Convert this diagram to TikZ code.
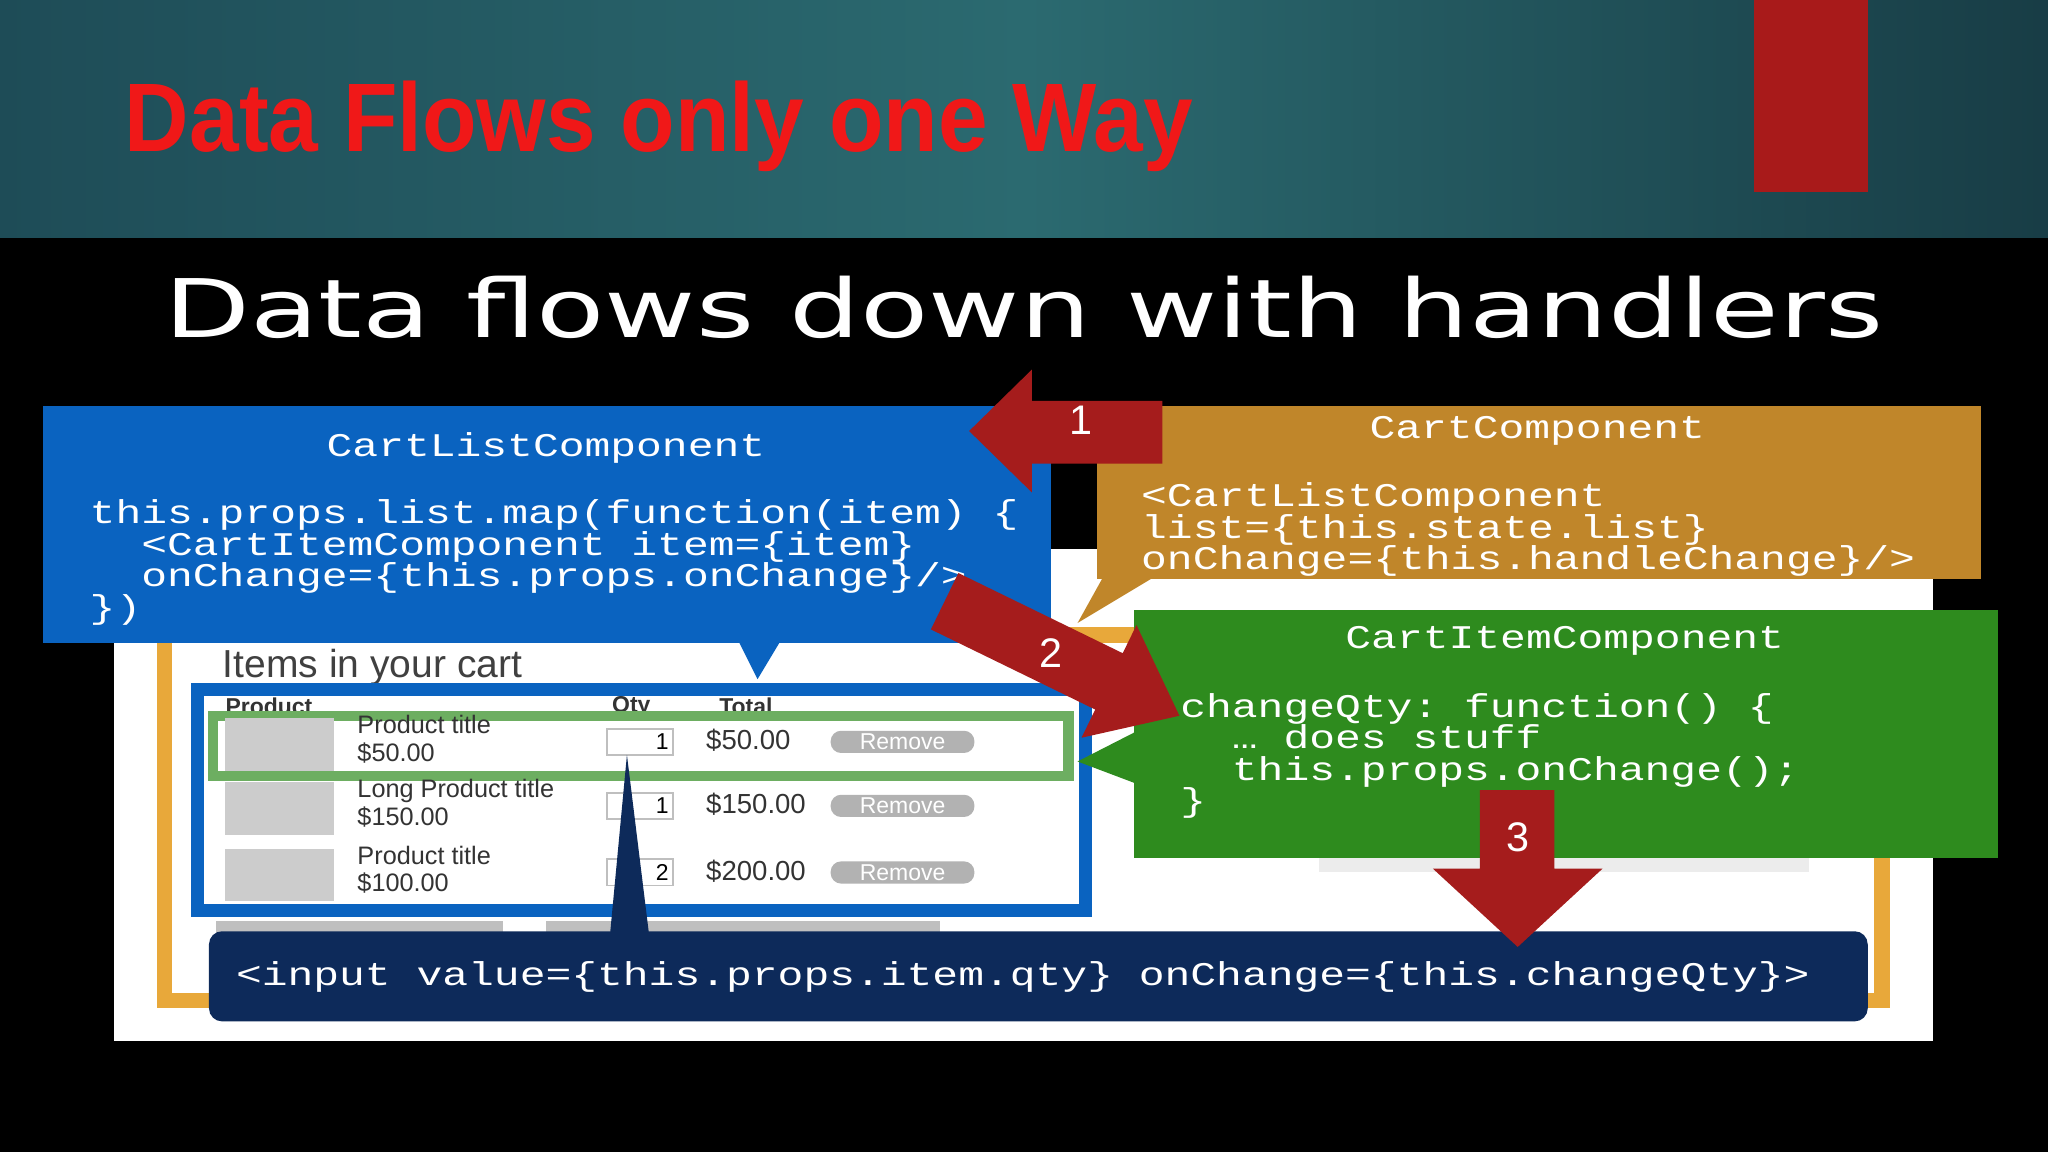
\documentclass[tikz,border=0pt]{standalone}
\usepackage{fontspec}
\setmainfont{Liberation Sans}
\setmonofont{Liberation Mono}
\newfontfamily\titfont{DejaVu Sans}
\usepackage{graphicx}
\definecolor{teal1}{HTML}{1E4C57}
\definecolor{teal2}{HTML}{2B6A70}
\definecolor{slidered}{HTML}{A81A1A}
\definecolor{titred}{HTML}{F01818}
\definecolor{cblue}{HTML}{0A63C0}
\definecolor{corange}{HTML}{C0862A}
\definecolor{cgreen}{HTML}{2E8B1E}
\definecolor{navy}{HTML}{0D2A5A}
\definecolor{arrred}{HTML}{A51C1C}
\definecolor{borange}{HTML}{E8A83A}
\newcommand{\cl}[1]{\scalebox{1.3}[1]{#1}}
\tikzset{
 code/.style={text=white,font=\fontsize{7.2pt}{6.85pt}\selectfont\ttfamily,inner sep=0pt,align=left},
 arr/.style={fill=arrred,draw=none},
 tab/.style={font=\fontsize{5pt}{5pt}\selectfont\bfseries,text=black!80,inner sep=0pt,align=left},
 btn/.style={fill=gray!60,rounded corners=0.08cm,text=white,font=\fontsize{5pt}{5pt}\selectfont,minimum width=1.1cm,minimum height=0.17cm,inner sep=0pt},
 thumb/.style={fill=gray!40,draw=none},
 qbox/.style={draw=gray!50,fill=white,minimum width=0.5cm,minimum height=0.2cm,inner sep=1pt,font=\fontsize{5pt}{5pt}\selectfont,align=right,text width=0.44cm}
}
\begin{document}
\begin{tikzpicture}[x=0.01cm,y=-0.01cm]
\useasboundingbox (0,0) rectangle (1568,882);
% backgrounds
\fill[black] (0,0) rectangle (1568,882);
\shade[left color=teal1,right color=teal1!80!black,middle color=teal2] (0,0) rectangle (1568,182);
\fill[slidered] (1343,0) rectangle (1430,147);
\node[anchor=south west,inner sep=0pt,text=titred] (title) at (95,132)
 {\resizebox{8.17cm}{0.54cm}{\bfseries Data Flows only one Way}};
\node[anchor=south west,inner sep=0pt,text=white] (sub) at (125,260)
 {\resizebox{13.15cm}{0.47cm}{\titfont Data flows down with handlers}};
% screenshot panel
\fill[white] (87,420) rectangle (1480,797);
\draw[borange,line width=0.12cm] (126,486) rectangle (1441,766);
\node[anchor=west,inner sep=0pt,font=\fontsize{8.5pt}{8.5pt}\selectfont,text=black!75] (items) at (170,511) {Items in your cart};
\fill[gray!15] (1010,650) rectangle (1385,668);
% table
\draw[cblue,line width=0.1cm] (151,528) rectangle (831,697);
\node[tab,anchor=west] (hp) at (172,541) {Product};
\node[tab,anchor=west] (hq) at (468,541) {Qty};
\node[tab,anchor=west] (ht) at (550,541) {Total};
\draw[cgreen!70,line width=0.08cm] (163,548) rectangle (818,594);
\foreach \y/\t/\p/\q/\tt [count=\i] in {570/Product title/\$50.00/1/\$50.00, 619/Long Product title/\$150.00/1/\$150.00, 670/Product title/\$100.00/2/\$200.00}{
 \fill[thumb] (172,\y-20) rectangle (256,\y+20);
 \node[tab,anchor=west,font=\fontsize{5.5pt}{6pt}\selectfont] (pt\i) at (273,\y-4) {\t\\\p};
 \node[qbox] (qb\i) at (490,\y-2) {\q};
 \node[tab,anchor=west,font=\fontsize{6pt}{6pt}\selectfont] (tt\i) at (540,\y-3) {\tt};
 \node[btn] (rb\i) at (691,\y-2) {Remove};
}
\fill[gray!50] (165,705) rectangle (385,715);
\fill[gray!50] (418,705) rectangle (720,715);
% navy bar
\fill[navy,rounded corners=0.1cm] (160,713) rectangle (1430,782);
\fill[navy] (480,578) -- (497,716) -- (467,716) -- cycle;
\node[code,anchor=west] (inp) at (180,748) {\cl{<input value=\{this.props.item.qty\} onChange=\{this.changeQty\}>}};
% blue box
\fill[cblue] (33,311) rectangle (805,492);
\fill[cblue] (565,490) -- (598,490) -- (580,520) -- cycle;
\node[code] (clc) at (418,343) {\cl{CartListComponent}};
\node[code,anchor=north west] (clcode) at (68,382) {\cl{this.props.list.map(function(item) \{}\\\cl{~~<CartItemComponent item=\{item\}}\\\cl{~~onChange=\{this.props.onChange\}/>}\\\cl{\})}};
% orange box
\fill[corange] (840,311) rectangle (1517,443);
\fill[corange] (845,441) -- (885,441) -- (825,477) -- cycle;
\node[code] (cc) at (1177,330) {\cl{CartComponent}};
\node[code,anchor=north west] (cccode) at (873,369) {\cl{<CartListComponent}\\\cl{list=\{this.state.list\}}\\\cl{onChange=\{this.handleChange\}/>}};
% green box
\fill[cgreen] (868,467) rectangle (1530,657);
\fill[cgreen] (870,560) -- (870,600) -- (825,583) -- cycle;
\node[code] (cic) at (1198,491) {\cl{CartItemComponent}};
\node[code,anchor=north west] (ciccode) at (903,530) {\cl{changeQty: function() \{}\\\cl{~~… does stuff}\\\cl{~~this.props.onChange();}\\\cl{\}}};
% red arrows
\fill[arr] (742,330) -- (790,283) -- (790,307) -- (890,307) -- (890,355) -- (790,355) -- (790,377) -- cycle;
\node[text=white,font=\fontsize{9pt}{9pt}\selectfont] (n1) at (828,322) {1};
\begin{scope}[shift={(903,548)},rotate=-26]
\fill[arr] (0,0) -- (-60,-48) -- (-60,-24) -- (-200,-24) -- (-200,24) -- (-60,24) -- (-60,48) -- cycle;
\end{scope}
\node[text=white,font=\fontsize{9pt}{9pt}\selectfont] (n2) at (805,500) {2};
\fill[arr] (1162,725) -- (1097,665) -- (1133,665) -- (1133,605) -- (1190,605) -- (1190,665) -- (1227,665) -- cycle;
\node[text=white,font=\fontsize{9pt}{9pt}\selectfont] (n3) at (1162,641) {3};
\end{tikzpicture}
\end{document}
